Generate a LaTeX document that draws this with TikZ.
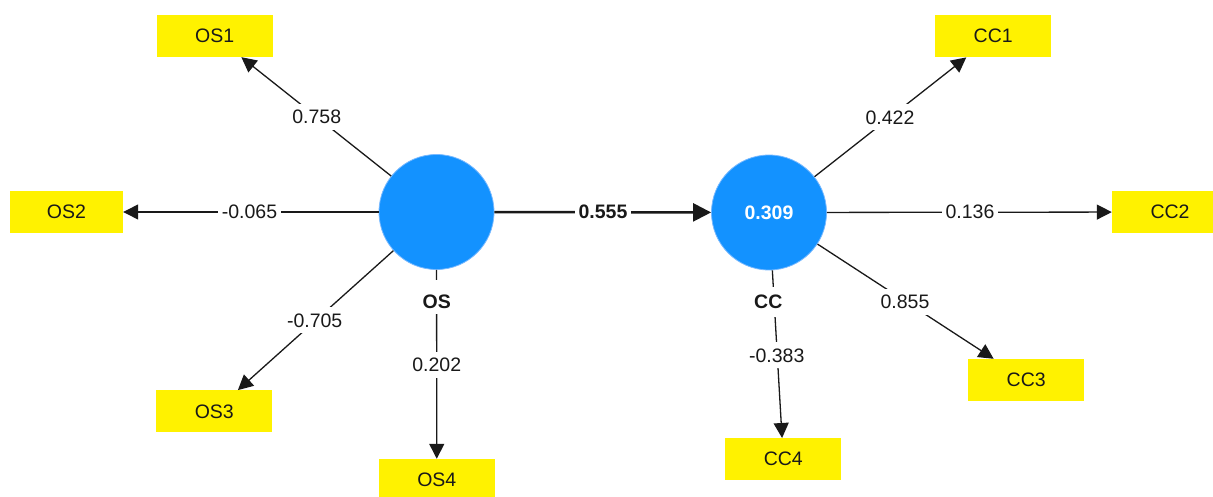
\documentclass[tikz,border=0pt]{standalone}
\usepackage{fontspec}
\setmainfont{Liberation Sans}
\usetikzlibrary{arrows.meta}
\definecolor{lvblue}{RGB}{19,146,255}
\definecolor{lvedge}{RGB}{120,185,255}
\definecolor{ink}{RGB}{25,25,25}
\begin{document}
\begin{tikzpicture}[x=1pt,y=-1pt,
  every node/.style={font=\fontsize{19.5}{23}\selectfont, text=ink},
  ind/.style={fill=yellow, minimum width=116pt, minimum height=42pt, inner sep=0pt},
  lv/.style={circle, fill=lvblue, draw=lvedge, line width=0.8pt, minimum size=115pt, inner sep=0pt, text=white, font=\fontsize{19.5}{23}\selectfont\bfseries},
  conn/.style={line width=1.3pt, draw=ink, -{Triangle[length=15pt,width=15pt]}},
  wt/.style={fill=white, inner xsep=4pt, inner ysep=6pt, text height=14pt, text depth=0pt},
  lvname/.style={fill=white, inner xsep=4pt, inner ysep=8pt, text height=14pt, text depth=0pt, font=\fontsize{19.5}{23}\selectfont\bfseries}
]
\clip (0,0) rectangle (1213,497);
% latent variables
\node[lv] (OS) at (436.5,212) {};
\node[lv] (CC) at (769,212.5) {0.309};
% indicators
\node[ind] (OS1) at (214.7,36) {OS1};
\node[ind, minimum width=113pt] (OS2) at (66.5,212) {OS2};
\node[ind] (OS3) at (214.3,411.3) {OS3};
\node[ind] (OS4) at (436.8,480) {OS4};
\node[ind] (CC1) at (993.2,36.2) {CC1};
\node[ind] (CC2) at (1170,212) {CC2};
\node[ind] (CC3) at (1026.2,380) {CC3};
\node[ind] (CC4) at (783.3,459.2) {CC4};
% connectors
\draw[conn] (OS) -- (OS1);
\draw[conn] (OS) -- (OS2);
\draw[conn] (OS) -- (OS3);
\draw[conn] (OS) -- (OS4);
\draw[conn] (CC) -- (CC1);
\draw[conn] (CC) -- (CC2);
\draw[conn] (CC) -- (CC3);
\draw[conn] (CC) -- (CC4);
\draw[conn, line width=2.5pt, -{Triangle[length=18pt,width=18pt]}] (OS) -- (CC);
% labels
\node[wt] (w1) at (316.7,116.7) {0.758};
\node[wt] (w2) at (249.5,212) {-0.065};
\node[wt] (w3) at (314.7,320) {-0.705};
\node[wt] (w4) at (436.7,364.5) {0.202};
\node[wt, font=\fontsize{19.5}{23}\selectfont\bfseries] (w5) at (603,212) {0.555};
\node[wt] (w6) at (890,117.3) {0.422};
\node[wt] (w7) at (970,212) {0.136};
\node[wt] (w8) at (905,301.7) {0.855};
\node[wt] (w9) at (776.7,355) {-0.383};
\node[lvname, text height=22pt, inner ysep=6pt] (nOS) at (436.7,297) {OS};
\node[lvname] (nCC) at (768.3,301.5) {CC};
\end{tikzpicture}
\end{document}
